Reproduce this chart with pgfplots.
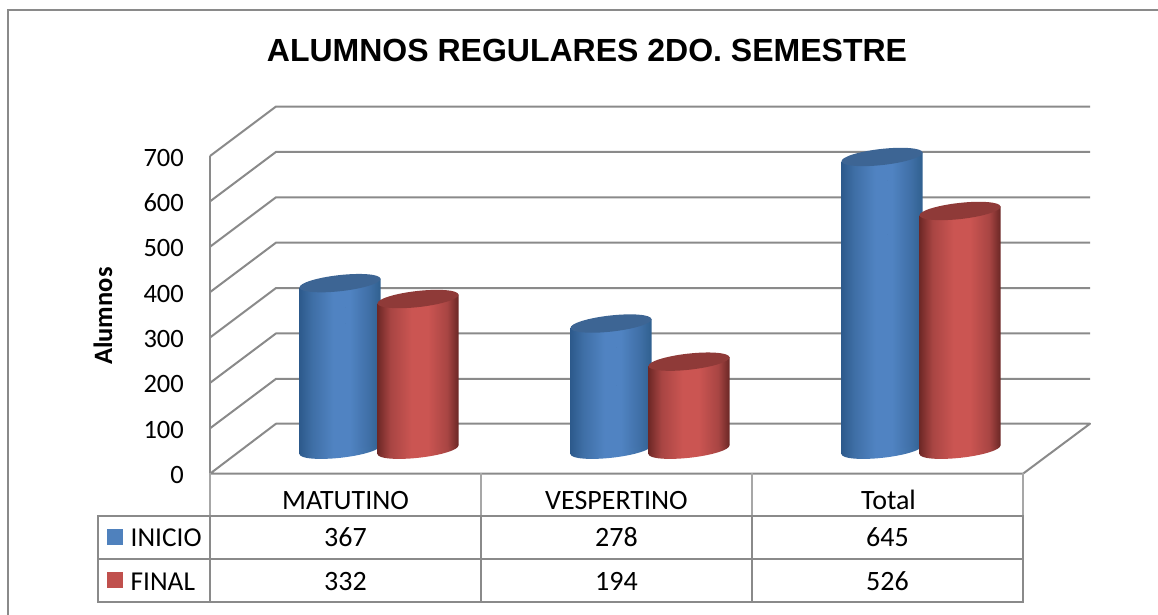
\documentclass[border=0pt]{standalone}
\usepackage{fontspec}
\usepackage{pgfplots}
\pgfplotsset{compat=1.18}
\setmainfont{Carlito}
\newfontfamily\titlefont[Scale=1]{Liberation Sans}
\definecolor{gridgray}{HTML}{8A8A8A}
\definecolor{barblue}{HTML}{4F81BD}
\definecolor{barred}{HTML}{C0504D}
\definecolor{topblue}{HTML}{3D6594}
\definecolor{topred}{HTML}{8F3A38}
\definecolor{HTMLblueA}{HTML}{2D5A8C}
\definecolor{HTMLblueB}{HTML}{3F6FA6}
\definecolor{HTMLblueC}{HTML}{5083C2}
\definecolor{HTMLblueD}{HTML}{30608F}
\definecolor{HTMLredA}{HTML}{6E2826}
\definecolor{HTMLredB}{HTML}{A84543}
\definecolor{HTMLredC}{HTML}{CB5552}
\definecolor{HTMLredD}{HTML}{6A2725}
\pgfdeclarehorizontalshading{cylblue}{100bp}{
  color(0bp)=(HTMLblueA); color(25bp)=(HTMLblueA); color(33bp)=(HTMLblueB);
  color(46bp)=(HTMLblueC); color(56bp)=(HTMLblueC); color(68bp)=(HTMLblueB);
  color(75bp)=(HTMLblueD); color(100bp)=(HTMLblueD)}
\pgfdeclarehorizontalshading{cylred}{100bp}{
  color(0bp)=(HTMLredA); color(25bp)=(HTMLredA); color(33bp)=(HTMLredB);
  color(46bp)=(HTMLredC); color(56bp)=(HTMLredC); color(68bp)=(HTMLredB);
  color(75bp)=(HTMLredD); color(100bp)=(HTMLredD)}
\newdimen\cylh
\newdimen\cylhu
\newdimen\cylhl
% draws a whole cylinder whose top centre is the current data point
\def\cylinder#1#2#3{%
  \cylh=\cylval pt\relax
  \cylh=-0.4539\cylh
  \cylhu=\cylh \advance\cylhu by 4.5pt
  \cylhl=\cylh \advance\cylhl by -4.5pt
  \pgfscope
  \pgftransformshift{\pgfpoint{#1pt}{24pt}}%
  \pgfpathellipse{\pgfqpoint{0pt}{\cylh}}{\pgfqpoint{40.5pt}{4.5pt}}{\pgfqpoint{-1pt}{8pt}}%
  \pgfshadepath{#2}{0}%
  \pgfusepath{discard}%
  \pgfpathmoveto{\pgfqpoint{-40.5pt}{-4.5pt}}%
  \pgfpathlineto{\pgfqpoint{40.5pt}{4.5pt}}%
  \pgfpathlineto{\pgfqpoint{40.5pt}{\cylhu}}%
  \pgfpathlineto{\pgfqpoint{-40.5pt}{\cylhl}}%
  \pgfpathclose
  \pgfshadepath{#2}{0}%
  \pgfusepath{discard}%
  \pgfsetfillcolor{#3}%
  \pgfpathellipse{\pgfpointorigin}{\pgfqpoint{40.5pt}{4.5pt}}{\pgfqpoint{-1pt}{8pt}}%
  \pgfusepath{fill}%
  \endpgfscope
}
\begin{document}
\begin{tikzpicture}[x=1pt,y=1pt]
\useasboundingbox (0,0) rectangle (1158,614);
% outer frame
\draw[gridgray,line width=2pt] (8,-5) -- (8,604) -- (1165,604);
\begin{axis}[
  at={(210pt,140.3pt)}, anchor=south west,
  scale only axis, width=813pt, height=317.7pt,
  xmin=0, xmax=3, ymin=0, ymax=700,
  clip=false,
  axis line style={draw=none},
  major tick length=0pt,
  xtick=\empty,
  ytick={0,100,...,700},
  /pgf/number format/assume math mode=true,
  yticklabel style={font=\fontsize{26.5}{26.5}\selectfont, inner sep=0pt, xshift=-26pt, yshift=-1.5pt, black},
  ylabel={Alumnos},
  ylabel style={at={(axis description cs:-0.1316,0.496)}, anchor=center,
     font=\fontsize{26.5}{26.5}\selectfont\bfseries, inner sep=0pt},
]
% walls and floor
\pgfplotsinvokeforeach{100,200,...,700}{
  \draw[gridgray,line width=2pt,line join=round] (axis cs:0,#1) -- ++(66pt,49.5pt) -- ++(814pt,0pt);
}
\draw[gridgray,line width=2pt,line join=round]
   (axis cs:0,0) -- ++(66pt,50pt) -- ++(814pt,0pt) -- (axis cs:3,0) -- cycle;
\draw[gridgray,line width=2pt] (axis cs:0,0) -- (axis cs:0,700);
% cylinders
\addplot[scatter, only marks, mark=*, mark size=0pt, draw=none, fill=none,
  visualization depends on=rawy \as \cylval,
  scatter/@pre marker code/.code={\cylinder{-5.5}{cylblue}{topblue}},
  scatter/@post marker code/.code={}]
  coordinates {(0.5,367) (1.5,278) (2.5,645)};
\addplot[scatter, only marks, mark=*, mark size=0pt, draw=none, fill=none,
  visualization depends on=rawy \as \cylval,
  scatter/@pre marker code/.code={\cylinder{72.5}{cylred}{topred}},
  scatter/@post marker code/.code={}]
  coordinates {(0.5,332) (1.5,194) (2.5,526)};
\end{axis}
% title
\node[anchor=base,font=\titlefont\fontsize{32}{32}\selectfont\bfseries] at (587,552) {ALUMNOS REGULARES 2DO. SEMESTRE};
% data table lines
\draw[gridgray!75,line width=1.2pt] (210,141) -- (210,98) (481,141) -- (481,98) (752,141) -- (752,98) (1023,141) -- (1023,98);
\draw[gridgray,line width=2pt] (98,98) rectangle (1023,12.5);
\draw[gridgray,line width=2pt] (98,55) -- (1023,55);
\foreach \x in {210,481,752}{\draw[gridgray,line width=2pt] (\x,98) -- (\x,12.5);}
% legend keys
\fill[barblue] (107,69) rectangle (123,85);
\fill[barred] (107,26) rectangle (123,42);
% table text
\tikzset{tt/.style={anchor=base,font=\fontsize{28}{28}\selectfont,inner sep=0pt}}
\node[tt] at (345.5,105) {MATUTINO};
\node[tt] at (616.5,105) {VESPERTINO};
\node[tt] at (888.5,105) {Total};
\node[tt,anchor=base west,font=\fontsize{27.3}{27.3}\selectfont] at (130.5,67.3) {INICIO};
\node[tt,anchor=base west,font=\fontsize{27.3}{27.3}\selectfont] at (130.5,24) {FINAL};
\node[tt] at (345.5,67.3) {367};
\node[tt] at (616.5,67.3) {278};
\node[tt] at (887.5,67.3) {645};
\node[tt] at (345.5,24) {332};
\node[tt] at (616.5,24) {194};
\node[tt] at (887.5,24) {526};
\end{tikzpicture}
\end{document}
